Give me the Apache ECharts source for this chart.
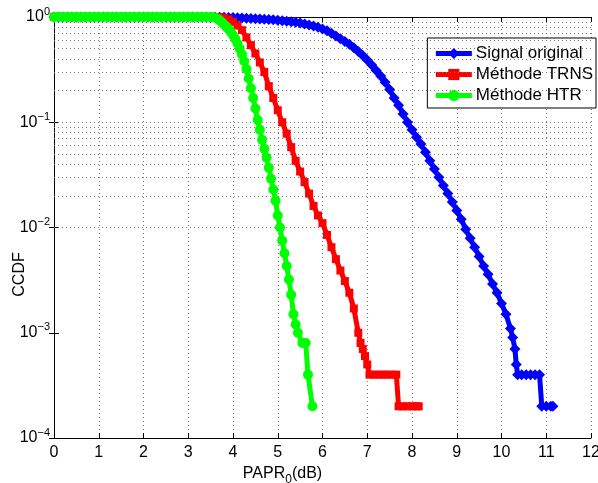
<!DOCTYPE html>
<html>
<head>
<meta charset="utf-8">
<script src="https://cdn.jsdelivr.net/npm/echarts@6/dist/echarts.min.js"></script>
<style>html,body{margin:0;padding:0;background:#fff;}#c{width:598px;height:483px;}</style>
</head>
<body>
<div id="c"></div>
<script>
const seriesNames = ['Signal original', 'Méthode TRNS', 'Méthode HTR'];
const xTickLabels = ['0','1','2','3','4','5','6','7','8','9','10','11','12'];
const yDecades = [1, 0.1, 0.01, 0.001, 0.0001];

const originalPts = [
[0,1],[0.1,1],[0.2,1],[0.3,1],[0.4,1],[0.5,1],[0.6,1],[0.7,1],[0.8,1],[0.9,1],
[1,1],[1.1,1],[1.2,1],[1.3,1],[1.4,1],[1.5,1],[1.6,1],[1.7,1],[1.8,1],[1.9,1],
[2,1],[2.1,1],[2.2,1],[2.3,1],[2.4,1],[2.5,1],[2.6,1],[2.7,1],[2.8,1],[2.9,1],
[3,1],[3.1,1],[3.2,0.999],[3.3,0.999],[3.4,0.998],[3.5,0.997],[3.6,0.996],[3.7,0.994],[3.8,0.992],[3.9,0.99],
[4,0.987],[4.1,0.984],[4.2,0.98],[4.3,0.975],[4.4,0.968],[4.5,0.96],[4.6,0.955],[4.7,0.95],[4.8,0.945],[4.9,0.94],
[5,0.93],[5.1,0.92],[5.2,0.91],[5.3,0.9],[5.4,0.89],[5.5,0.875],[5.6,0.86],[5.7,0.84],[5.8,0.82],[5.9,0.8],
[6,0.77],[6.1,0.74],[6.2,0.7],[6.3,0.66],[6.4,0.62],[6.5,0.585],[6.6,0.55],[6.7,0.51],[6.8,0.47],[6.9,0.43],
[7,0.39],[7.1,0.35],[7.2,0.31],[7.3,0.275],[7.4,0.24],[7.5,0.205],[7.6,0.17],[7.7,0.145],[7.8,0.12],[7.9,0.1],
[8,0.085],[8.1,0.072],[8.2,0.062],[8.3,0.052],[8.4,0.043],[8.5,0.036],[8.6,0.03],[8.7,0.025],[8.8,0.021],[8.9,0.0175],
[9,0.0145],[9.1,0.012],[9.2,0.0096],[9.3,0.0079],[9.4,0.0065],[9.5,0.0053],[9.6,0.0043],[9.7,0.0036],[9.8,0.0029],[9.9,0.0024],
[10,0.0019],[10.1,0.0015],[10.2,0.0011],[10.25,0.0009],[10.3,0.0007],[10.33,0.0005],[10.36,0.0004],[10.45,0.0004],[10.55,0.0004],[10.65,0.0004],
[10.75,0.0004],[10.85,0.0004],[10.9,0.0002],[11,0.0002],[11.1,0.0002],[11.15,0.0002]
];

const trnsPts = [
[0,1],[0.1,1],[0.2,1],[0.3,1],[0.4,1],[0.5,1],[0.6,1],[0.7,1],[0.8,1],[0.9,1],
[1,1],[1.1,1],[1.2,1],[1.3,1],[1.4,1],[1.5,1],[1.6,1],[1.7,1],[1.8,1],[1.9,1],
[2,1],[2.1,1],[2.2,1],[2.3,1],[2.4,1],[2.5,1],[2.6,1],[2.7,1],[2.8,1],[2.9,1],
[3,1],[3.1,1],[3.2,1],[3.3,1],[3.4,1],[3.5,1],[3.6,1],[3.7,0.995],[3.8,0.98],[3.9,0.95],
[4,0.9],[4.1,0.83],[4.2,0.75],[4.3,0.64],[4.4,0.54],[4.5,0.45],[4.6,0.37],[4.7,0.3],[4.8,0.22],[4.9,0.17],
[5,0.13],[5.1,0.1],[5.2,0.078],[5.3,0.058],[5.4,0.043],[5.5,0.034],[5.6,0.027],[5.7,0.021],[5.8,0.016],[5.9,0.013],
[6,0.011],[6.1,0.0085],[6.2,0.0065],[6.3,0.005],[6.4,0.0039],[6.5,0.0031],[6.6,0.0024],[6.7,0.0017],[6.8,0.001],[6.85,0.0008],
[6.9,0.0007],[6.95,0.0006],[7,0.0005],[7.05,0.0004],[7.15,0.0004],[7.25,0.0004],[7.35,0.0004],[7.45,0.0004],[7.55,0.0004],[7.65,0.0004],
[7.7,0.0002],[7.8,0.0002],[7.9,0.0002],[8,0.0002],[8.1,0.0002],[8.15,0.0002]
];

const htrPts = [
[0,1],[0.1,1],[0.2,1],[0.3,1],[0.4,1],[0.5,1],[0.6,1],[0.7,1],[0.8,1],[0.9,1],
[1,1],[1.1,1],[1.2,1],[1.3,1],[1.4,1],[1.5,1],[1.6,1],[1.7,1],[1.8,1],[1.9,1],
[2,1],[2.1,1],[2.2,1],[2.3,1],[2.4,1],[2.5,1],[2.6,1],[2.7,1],[2.8,1],[2.9,1],
[3,1],[3.1,1],[3.2,1],[3.3,1],[3.4,1],[3.5,0.998],[3.55,0.995],[3.6,0.985],[3.65,0.965],[3.7,0.93],
[3.75,0.89],[3.8,0.85],[3.85,0.81],[3.9,0.77],[3.95,0.72],[4,0.67],[4.05,0.62],[4.1,0.56],[4.15,0.5],[4.2,0.44],
[4.25,0.38],[4.3,0.32],[4.35,0.26],[4.4,0.21],[4.45,0.17],[4.5,0.135],[4.55,0.105],[4.6,0.085],[4.65,0.068],[4.7,0.056],
[4.75,0.046],[4.8,0.037],[4.85,0.029],[4.9,0.023],[4.95,0.018],[5,0.013],[5.05,0.01],[5.1,0.0075],[5.15,0.0057],[5.2,0.0043],
[5.25,0.0032],[5.3,0.0023],[5.35,0.0015],[5.4,0.0012],[5.45,0.001],[5.55,0.0008],[5.625,0.0008],[5.675,0.0004],[5.775,0.0002]
];

const colors = ['#0000ff', '#ff0000', '#00ff00'];
const symbols = ['diamond', 'rect', 'circle'];
const symbolSizes = [11, 8, 10];

// minor log gridlines (2..9 x 10^k) and interior decade lines
const minorGrid = [];
for (let k = -4; k <= -1; k++) {
  for (let m = 2; m <= 9; m++) minorGrid.push({ yAxis: m * Math.pow(10, k) });
}
for (let k = -3; k <= -1; k++) minorGrid.push({ yAxis: Math.pow(10, k) });

const FONT = 'Liberation Sans, Arial, Helvetica, sans-serif';
const gridDash = { color: '#7a7a7a', width: 1, type: [1, 3] };

function yLabel(v) {
  const e = Math.round(Math.log10(v));
  return '{b|10}{s|' + (e === 0 ? '0' : '\u2212' + (-e)) + '}';
}

const chart = echarts.init(document.getElementById('c'), null, { renderer: 'canvas' });
const series = [originalPts, trnsPts, htrPts].map((pts, i) => ({
  name: seriesNames[i],
  type: 'line',
  data: pts,
  symbol: symbols[i],
  symbolSize: symbolSizes[i],
  showAllSymbol: true,
  lineStyle: { color: colors[i], width: 5 },
  itemStyle: { color: colors[i] },
  z: 5 + i,
  clip: false
}));
series.push({
  type: 'line', data: [], silent: true, z: 1,
  markLine: { silent: true, symbol: ['none', 'none'], label: { show: false },
    lineStyle: gridDash, animation: false, data: minorGrid }
});

chart.setOption({
  animation: false,
  backgroundColor: '#fff',
  grid: { left: 54, right: 7, top: 17, bottom: 45, containLabel: false, outerBoundsMode: 'none' },
  legend: {
    data: seriesNames,
    orient: 'vertical',
    right: 2, top: 38,
    backgroundColor: '#fff',
    borderColor: '#000', borderWidth: 1, borderRadius: 0,
    padding: [7, 3, 4, 6],
    itemWidth: 36, itemHeight: 14, itemGap: 4,
    lineStyle: { width: 5 },
    textStyle: { fontFamily: FONT, fontSize: 17, color: '#000', padding: [0, 0, 0, -1] }
  },
  xAxis: [{
    type: 'value', min: 0, max: 12, interval: 1,
    axisLine: { lineStyle: { color: '#000', width: 1 } },
    axisTick: { inside: true, length: 5, lineStyle: { color: '#000' } },
    axisLabel: { fontFamily: FONT, fontSize: 16, color: '#000', margin: 7,
      formatter: (v) => xTickLabels[Math.round(v)] },
    splitLine: { show: true, lineStyle: gridDash },
    name: '{a|PAPR}{s|0}{a|(dB)}',
    nameLocation: 'middle', nameGap: 23,
    nameTextStyle: { padding: [0, 80, 0, 0],
      rich: { a: { fontFamily: FONT, fontSize: 16, color: '#000' },
              s: { fontFamily: FONT, fontSize: 12, color: '#000', padding: [12, 0, 0, 0] } } }
  }, {
    type: 'value', min: 0, max: 12, interval: 1, position: 'top',
    axisLine: { show: true, lineStyle: { color: '#000' } },
    axisTick: { inside: true, length: 5, lineStyle: { color: '#000' } },
    axisLabel: { show: false }, splitLine: { show: false }
  }],
  yAxis: [{
    type: 'log', logBase: 10, min: 0.0001, max: 1,
    axisLine: { show: true, lineStyle: { color: '#000', width: 1 } },
    axisTick: { show: true, inside: true, length: 5, lineStyle: { color: '#000' } },
    axisLabel: { margin: 4, formatter: yLabel,
      rich: { b: { fontFamily: FONT, fontSize: 16, color: '#000' },
              s: { fontFamily: FONT, fontSize: 11, color: '#000', padding: [0, 0, 11, 0] } } },
    splitLine: { show: false },
    name: 'CCDF', nameLocation: 'middle', nameGap: 26, nameRotate: 90, nameMoveOverlap: false,
    nameTextStyle: { fontFamily: FONT, fontSize: 16, color: '#000', padding: [0, 94, 0, 0] }
  }, {
    type: 'log', logBase: 10, min: 0.0001, max: 1, position: 'right',
    axisLine: { show: true, lineStyle: { color: '#000' } },
    axisTick: { show: true, inside: true, length: 5, lineStyle: { color: '#000' } },
    axisLabel: { show: false }, splitLine: { show: false }
  }],
  series: series
});
</script>
</body>
</html>
